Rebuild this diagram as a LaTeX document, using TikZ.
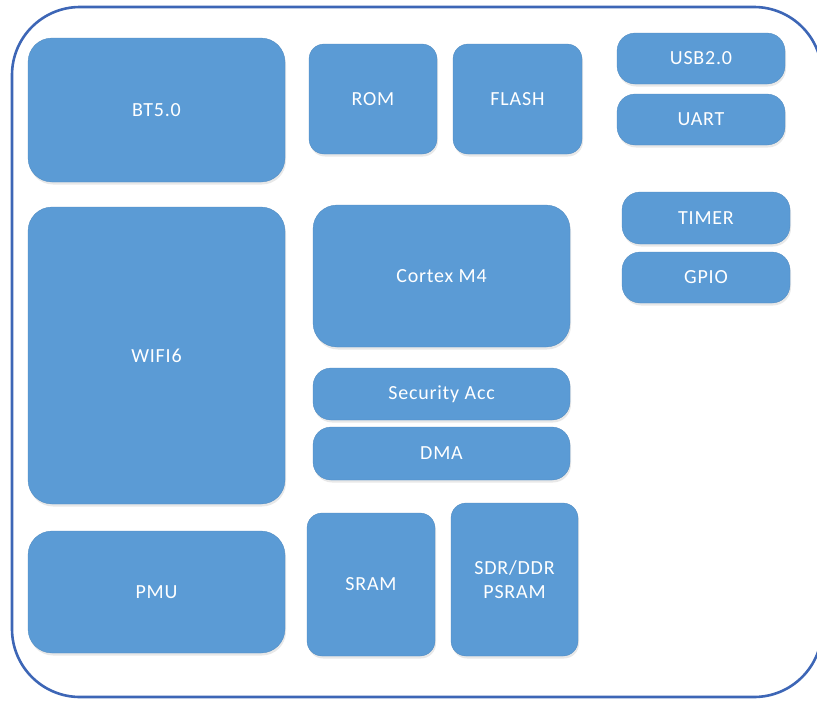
\documentclass[tikz,border=0pt]{standalone}
\usepackage{fontspec}
\setmainfont{Carlito}
\newfontfamily\blkfont[LetterSpace=4]{Carlito}
\usetikzlibrary{shadows}
\definecolor{blkblue}{HTML}{5B9BD5}
\definecolor{rimblue}{HTML}{3D66B6}
\begin{document}
\begin{tikzpicture}[x=1pt,y=-1pt,
	blk/.style={fill=blkblue, draw=blkblue!90!black, line width=0.3pt, rounded corners=24pt,
		text=white, font=\blkfont\fontsize{20}{24}\selectfont, align=center, inner sep=0pt,
		drop shadow={opacity=0.18, shadow xshift=1pt, shadow yshift=-2.5pt}},
	pill/.style={blk, rounded corners=18pt},
	small/.style={blk, rounded corners=15pt}]
	\useasboundingbox (0,0) rectangle (817,702);

	% outer frame
	\begin{scope}
		\clip (0,0) rectangle (817,702);
		\draw[rimblue, line width=2.6pt, rounded corners=68pt] (12,7) rectangle (822,697);
	\end{scope}

	% left column
	\node[blk, minimum width=257pt, minimum height=144pt] (bt) at (156.5,110) {BT5.0};
	\node[blk, minimum width=257pt, minimum height=297pt] (wifi) at (156.5,355.5) {WIFI6};
	\node[blk, minimum width=257pt, minimum height=122pt] (pmu) at (156.5,592) {PMU};

	% memories
	\node[small, minimum width=128pt, minimum height=110pt] (rom) at (373,99) {ROM};
	\node[small, minimum width=129pt, minimum height=110pt] (flash) at (517.5,99) {FLASH};
	\node[small, minimum width=128pt, minimum height=143pt] (sram) at (371,584.5) {SRAM};
	\node[small, minimum width=127pt, minimum height=153pt] (psram) at (514.5,579.5) {SDR/DDR\\PSRAM};

	% core
	\node[blk, minimum width=257pt, minimum height=142pt] (cpu) at (441.5,276) {Cortex M4};
	\node[pill, minimum width=257pt, minimum height=52pt] (sec) at (441.5,394) {Security Acc};
	\node[pill, minimum width=257pt, minimum height=53pt] (dma) at (441.5,453.5) {DMA};

	% peripherals
	\node[pill, minimum width=168pt, minimum height=51pt] (usb) at (701,58.5) {USB2.0};
	\node[pill, minimum width=168pt, minimum height=51pt] (uart) at (701,119.5) {UART};
	\node[pill, minimum width=168pt, minimum height=52pt] (timer) at (706,218) {TIMER};
	\node[pill, minimum width=168pt, minimum height=51pt] (gpio) at (706,277.5) {GPIO};
\end{tikzpicture}
\end{document}
